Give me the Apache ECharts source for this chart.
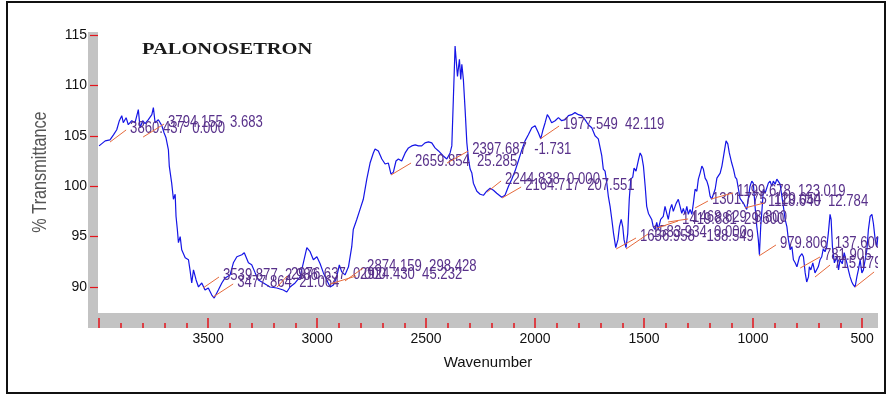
<!DOCTYPE html>
<html>
<head>
<meta charset="utf-8">
<script src="https://cdn.jsdelivr.net/npm/echarts@6/dist/echarts.min.js"></script>
<style>html,body{margin:0;padding:0;background:#fff}#c{width:888px;height:395px}</style>
</head>
<body>
<div id="c"></div>
<script>
// ---- data ----
const chartTitle = 'PALONOSETRON';
const xAxisName = 'Wavenumber';
const yAxisName = '% Transmittance';
const wavenumbers = [4000,3972,3950,3934,3919,3907,3896,3889,3876,3866,3850,3835,3820,3812,3800,3789,3774,3758,3751,3743,3728,3712,3702,3693,3682,3678,3667,3659,3651,3647,3641,3636,3628,3621,3605,3590,3583,3575,3567,3555,3544,3529,3514,3499,3483,3472,3453,3437,3422,3399,3384,3368,3345,3334,3315,3300,3284,3269,3246,3216,3185,3155,3139,3124,3101,3078,3063,3047,3032,3017,3001,2986,2971,2956,2940,2925,2910,2898,2887,2872,2856,2841,2834,2818,2803,2788,2772,2757,2742,2734,2719,2703,2688,2673,2661,2650,2638,2627,2612,2596,2581,2566,2550,2535,2520,2505,2489,2474,2459,2443,2421,2405,2390,2382,2375,2367,2359,2356,2347,2341,2336,2329,2321,2313,2306,2298,2290,2283,2267,2252,2237,2222,2206,2191,2176,2153,2138,2122,2107,2092,2077,2061,2046,2031,2015,2000,1985,1974,1965,1954,1944,1935,1924,1908,1893,1878,1862,1847,1832,1817,1801,1786,1771,1756,1740,1725,1710,1694,1687,1679,1671,1664,1656,1648,1640,1630,1620,1613,1605,1598,1592,1583,1575,1568,1561,1552,1546,1537,1526,1518,1511,1503,1495,1488,1480,1476,1465,1458,1450,1442,1435,1424,1412,1404,1396,1389,1381,1373,1366,1353,1343,1335,1327,1320,1312,1304,1297,1289,1281,1274,1266,1258,1251,1243,1235,1228,1220,1212,1205,1197,1190,1182,1174,1166,1151,1143,1133,1124,1116,1109,1098,1090,1082,1075,1067,1060,1044,1037,1029,1014,1006,999,991,983,976,971,965,957,953,945,930,922,914,907,899,891,884,876,868,861,853,845,838,830,822,815,807,799,787,776,769,761,754,746,742,735,726,716,708,701,693,685,678,670,662,655,647,642,636,627,616,608,601,591,582,570,563,555,547,540,532,524,517,509,501,494,486,478,471,463,455,448,440,432,428];
const transmittance = [104.0,104.5,104.6,105.1,105.6,106.5,107.0,106.3,106.8,106.1,106.5,106.3,107.6,105.8,106.5,106.2,106.6,107.1,107.8,106.3,106.6,106.0,105.3,104.8,103.6,102.0,100.3,98.7,99.2,97.0,95.7,94.4,95.0,93.7,92.9,92.7,91.7,90.4,91.7,90.7,90.0,90.4,89.7,89.9,89.2,88.9,89.7,90.4,90.9,91.2,92.4,93.0,93.2,93.4,92.4,92.2,91.4,90.7,90.4,90.0,89.9,89.7,89.5,90.0,90.4,91.0,92.4,93.9,93.5,92.7,93.0,92.3,91.4,90.7,90.0,90.2,91.0,92.2,91.5,91.2,92.0,94.0,95.7,96.7,97.7,98.7,100.7,102.3,103.3,103.7,103.5,102.7,102.2,102.3,101.2,101.4,102.5,102.7,102.5,103.3,103.8,104.0,104.1,104.0,104.0,104.3,104.4,104.3,103.8,103.5,103.0,102.7,103.3,104.0,108.6,113.9,113.9,110.9,112.6,110.6,112.1,110.6,107.6,104.3,102.8,101.7,101.3,100.3,99.5,99.2,99.1,99.5,99.8,99.6,99.3,98.9,99.1,100.0,100.7,101.5,102.5,103.6,104.5,105.1,105.8,106.0,105.3,104.7,105.5,106.3,107.1,106.8,106.3,106.5,106.8,106.5,106.6,107.0,107.1,107.3,107.1,107.0,106.6,106.1,105.8,105.0,104.7,103.0,101.7,101.5,100.3,99.0,98.0,96.7,95.3,93.9,94.7,96.0,96.7,96.0,94.7,93.9,95.3,98.7,100.7,100.9,101.8,101.5,102.6,103.3,103.0,102.0,100.0,98.0,97.3,97.2,96.7,96.0,95.7,96.4,95.7,96.7,97.0,98.0,97.3,96.7,97.7,98.2,97.5,98.3,98.7,98.0,97.3,97.8,97.2,98.0,97.2,97.7,97.2,98.3,99.7,99.5,100.7,101.3,102.0,101.7,100.8,100.5,100.0,99.0,98.7,99.2,99.7,100.8,101.3,102.0,103.3,104.5,104.2,103.3,102.3,101.7,100.9,100.7,99.7,98.8,98.3,98.0,97.7,100.0,100.5,100.3,98.0,96.0,94.7,93.2,96.0,98.3,99.7,99.3,100.3,100.5,100.0,100.5,100.2,100.7,100.8,100.2,99.0,98.0,96.7,96.0,94.7,93.7,94.0,92.7,92.4,92.0,93.0,93.3,93.0,91.4,90.5,91.0,92.0,91.7,92.4,91.4,91.4,92.0,92.7,93.0,93.8,93.5,94.0,95.3,97.2,96.7,94.0,92.4,93.0,91.7,92.7,92.3,93.4,92.4,91.7,91.0,90.5,90.2,90.0,91.0,91.7,92.7,91.4,91.7,92.7,93.7,95.7,97.0,97.2,96.3,94.7,94.0,95.0];
const yTicks = [90, 95, 100, 105, 110, 115];
const xLabelTicks = [3500, 3000, 2500, 2000, 1500, 1000, 500];
const xMajorTicks = [4000, 3500, 3000, 2500, 2000, 1500, 1000, 500];
const xMinorTicks = [3900,3800,3700,3600,3400,3300,3200,3100,2900,2800,2700,2600,2400,2300,2200,2100,1900,1800,1700,1600,1400,1300,1200,1100,900,800,700,600];
// peak-pick annotations: peak point, tag point (where the leader line ends), text
const peakWn  = [3950,3798,3523,3477,3183,2940,2872,2661,2404,2220,2151,1977,1628,1583,1441,1390,1266,1193,1037,973,784,716,532];
const peakT   = [104.38,104.88,89.90,89.01,90.0,90.30,90.60,101.11,102.30,99.42,98.83,104.68,93.77,93.77,95.85,96.45,97.84,98.73,97.84,93.08,91.88,90.99,90.0];
const tagWn   = [3876,3702,3450,3385,3138,2821,2789,2569,2307,2156,2064,1890,1537,1482,1344,1298,1207,1092,950,895,693,647,445];
const tagT    = [105.58,106.17,90.99,90.30,91.09,91.09,91.88,102.30,103.49,100.52,99.92,105.97,94.86,95.26,96.55,96.75,98.53,99.33,98.33,94.17,92.98,92.18,91.49];
const peakText = ['3860.437  0.000','3794.155  3.683','3539.877  2.986','3477.864  21.064','2976.637  0.000','2924.430  45.232','2874.159  298.428','2659.854  25.285','2397.687  -1.731','2244.838  0.000','2164.717  207.551','1977.549  42.119','1636.958  -138.549','1583.934  0.000','1419.881  29.600','1468.629  8.800','1301.775  120.054','1199.678  123.019','1118.640  12.784','979.806  137.600','781.905  9.522','715.179  0.293','532.624  5.229'];

// ---- chart ----
const lineData = wavenumbers.map((w, i) => [w, transmittance[i]]);
const annData = peakWn.map((w, i) => [w, peakT[i], tagWn[i], tagT[i], i]);
const RED = '#e3141c';
const chart = echarts.init(document.getElementById('c'), null, {renderer: 'canvas'});
const narrow = "'Liberation Sans Narrow', 'Arial Narrow', 'Liberation Sans', sans-serif";
chart.setOption({
  animation: false,
  backgroundColor: '#fff',
  grid: {left: 98, right: 10, top: 32, bottom: 82, containLabel: false},
  xAxis: [{
    type: 'value', inverse: true, min: 427, max: 4005, position: 'bottom', offset: 15,
    axisLine: {show: false},
    splitLine: {show: false},
    axisTick: {show: true, inside: true, length: 10, customValues: xMajorTicks, lineStyle: {color: RED, width: 1.5}},
    axisLabel: {customValues: xLabelTicks, margin: 4, color: '#111', fontSize: 14, fontFamily: narrow,
      formatter: function (v) { return String(v); }},
    name: xAxisName, nameLocation: 'middle', nameGap: 27,
    nameTextStyle: {color: '#111', fontSize: 15, fontFamily: narrow}
  }, {
    type: 'value', inverse: true, min: 427, max: 4005, position: 'bottom', offset: 15,
    axisLine: {show: false}, splitLine: {show: false},
    axisTick: {show: true, inside: true, length: 5, customValues: xMinorTicks, lineStyle: {color: RED, width: 1.5}},
    axisLabel: {show: false}
  }],
  yAxis: {
    type: 'value', min: 87.42, max: 115.3,
    axisLine: {show: false}, splitLine: {show: false},
    axisTick: {show: true, length: 8, customValues: yTicks, lineStyle: {color: RED, width: 1.2}},
    axisLabel: {customValues: yTicks, margin: 11, color: '#111', fontSize: 14, fontFamily: narrow,
      formatter: function (v) { return String(v); }}
  },
  graphic: [
    {type: 'rect', z: -10, shape: {x: 7, y: 2, width: 878, height: 391}, style: {fill: 'none', stroke: '#111', lineWidth: 2}},
    {type: 'rect', z: -5, shape: {x: 88, y: 32, width: 10, height: 296}, style: {fill: '#c3c3c3'}},
    {type: 'rect', z: -5, shape: {x: 88, y: 313, width: 790, height: 15}, style: {fill: '#c3c3c3'}},
    {type: 'text', z: 50, x: 142, y: 50, scaleX: 1.28,
      style: {text: chartTitle, fill: '#1a1a1a', font: 'bold 16px "Liberation Serif", serif', align: 'left', verticalAlign: 'middle'}},
    {type: 'text', z: 50, x: 40, y: 172, rotation: Math.PI / 2, scaleX: 1.25, scaleY: 1.6,
      style: {text: yAxisName, fill: '#555', font: '13px "Liberation Sans", sans-serif', align: 'center', verticalAlign: 'middle'}}
  ],
  series: [{
    type: 'line', data: lineData, xAxisIndex: 0, showSymbol: false, symbol: 'none',
    lineStyle: {color: '#1515e6', width: 1.2}, z: 3
  }, {
    type: 'custom', xAxisIndex: 0, clip: true, z: 4,
    encode: {x: [0, 2], y: [1, 3]},
    data: annData,
    renderItem: function (params, api) {
      const p = api.coord([api.value(0), api.value(1)]);
      const q = api.coord([api.value(2), api.value(3)]);
      const idx = api.value(4);
      return {
        type: 'group',
        children: [
          {type: 'line', shape: {x1: p[0], y1: p[1], x2: q[0], y2: q[1]}, style: {stroke: '#e56a3c', lineWidth: 1}},
          {type: 'text', x: q[0] + 4, y: q[1] - 1, scaleX: 0.82,
            style: {text: peakText[idx], fill: '#58318a', font: '16px "Liberation Sans", sans-serif', align: 'left', verticalAlign: 'middle'}}
        ]
      };
    }
  }]
});
</script>
</body>
</html>
